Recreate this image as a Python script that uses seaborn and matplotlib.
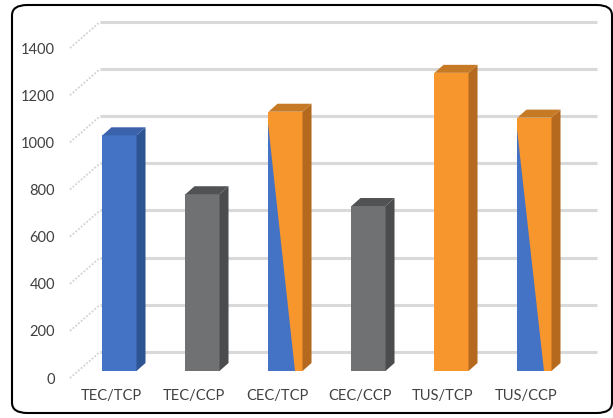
import numpy as np
import pandas as pd
import matplotlib
matplotlib.use("Agg")
import matplotlib.pyplot as plt
import seaborn as sns
from matplotlib.patches import Polygon, FancyBboxPatch

categories = ["TEC/TCP", "TEC/CCP", "CEC/TCP", "CEC/CCP", "TUS/TCP", "TUS/CCP"]
values = [1000, 750, 1100, 700, 1265, 1075]
front_colors = ["#4472c4", "#6f7173", "#f7962d", "#6f7173", "#f7962d", "#f7962d"]
side_colors = ["#2e5593", "#4a4c4e", "#b4691f", "#4a4c4e", "#b4691f", "#b4691f"]
top_colors = ["#3a62aa", "#505254", "#c77a25", "#505254", "#c77a25", "#c77a25"]
split_bars = ["CEC/TCP", "TUS/CCP"]  # blue/orange diagonal split
y_ticks = [0, 200, 400, 600, 800, 1000, 1200, 1400]

sns.set_theme(style="white")
plt.rcParams["font.family"] = ["Lato", "DejaVu Sans"]

W, H = 613, 418
fig = plt.figure(figsize=(W / 100, H / 100), dpi=100)

# axes placed in pixel terms so the pseudo-3d offsets line up
px_l, px_r, px_t, px_b = 62, 600, 10, 383
ax = fig.add_axes([px_l / W, 1 - px_b / H, (px_r - px_l) / W, (px_b - px_t) / H])
x_unit, y_unit = 83.0, 0.2357  # px per category, px per value
x0_px, y0_px = 119.5, 371

df = pd.DataFrame({"cat": categories, "val": values})

# back wall gridlines + dotted floor/side diagonals
front_dx, front_dy = -0.596, -30
back_dx, back_dy = -0.235, 81
right_end = (597 - x0_px) / x_unit
for v in y_ticks:
    ax.plot([back_dx, right_end], [v + back_dy, v + back_dy], color="#d9d9d9",
            lw=2.2, solid_capstyle="butt", zorder=1)
    ax.plot([front_dx, back_dx], [v + front_dy, v + back_dy], color="#d2d2d2",
            lw=1.3, ls=(0, (1, 1)), zorder=1)

sns.barplot(data=df, x="cat", y="val", hue="cat", palette=front_colors,
            saturation=1, width=0.41, legend=False, ax=ax, zorder=3)

dx, dy = 9 / x_unit, 8 / y_unit
for i, p in enumerate(list(ax.patches)):
    x0 = p.get_x()
    w = p.get_width()
    h = p.get_height()
    x1 = x0 + w
    p.set_edgecolor("none")
    side = Polygon([(x1, 0), (x1 + dx, dy), (x1 + dx, h + dy), (x1, h)],
                   closed=True, fc=side_colors[i], ec="none", zorder=3)
    top = Polygon([(x0, h), (x0 + dx, h + dy), (x1 + dx, h + dy), (x1, h)],
                  closed=True, fc=top_colors[i], ec="none", zorder=3)
    ax.add_patch(side)
    ax.add_patch(top)
    if categories[i] in split_bars:
        tri = Polygon([(x0, h * 0.955), (x0, 0), (x0 + 0.77 * w, 0)],
                      closed=True, fc="#4472c4", ec="none", zorder=3.5)
        ax.add_patch(tri)

# seaborn resets categorical limits, so set them last
ax.set_xlim((px_l - x0_px) / x_unit, (px_r - x0_px) / x_unit)
ax.set_ylim((y0_px - px_b) / y_unit, (y0_px - px_t) / y_unit)

# tick labels sit in the front plane
ax.set_yticks([v + front_dy for v in y_ticks])
ax.set_yticklabels([str(v) for v in y_ticks])
ax.set_xticks([i - 8.5 / x_unit for i in range(len(categories))])
ax.set_xticklabels(categories)
ax.tick_params(axis="y", length=0, pad=5, labelsize=10.5, labelcolor="#404040")
ax.tick_params(axis="x", length=0, pad=4, labelsize=10.5, labelcolor="#404040")
ax.set_xlabel("")
ax.set_ylabel("")
sns.despine(ax=ax, left=True, bottom=True)

# rounded outer frame
frame = FancyBboxPatch((12 / W, 5 / H), (612 - 12) / W, (413 - 5) / H,
                       boxstyle="round,pad=0,rounding_size=0.025",
                       transform=fig.transFigure, fc="none", ec="black",
                       lw=1.5, zorder=10)
fig.patches.append(frame)

fig.savefig("out.png", dpi=100)
